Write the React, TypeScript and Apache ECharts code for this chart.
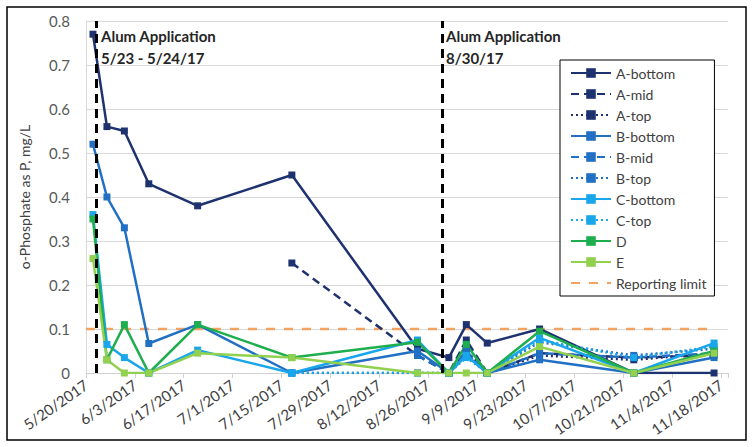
import React, { useEffect, useRef } from "react";
import * as echarts from "echarts";

const sampleDates = [
  "2017-05-22", "2017-05-26", "2017-05-31", "2017-06-07", "2017-06-21", "2017-07-18",
  "2017-08-23", "2017-09-01", "2017-09-06", "2017-09-12", "2017-09-27", "2017-10-24", "2017-11-16",
];

const aBottom = [0.77, 0.56, 0.55, 0.43, 0.38, 0.45, 0.055, 0.035, 0.11, 0.068, 0.1, 0, 0];
const aMid = [null, null, null, null, null, 0.25, 0.04, 0, 0.075, 0, 0.045, 0.035, 0.04];
const aTop = [null, null, null, null, null, null, null, 0, 0.05, 0, 0.04, 0.03, 0.045];
const bBottom = [0.52, 0.4, 0.33, 0.067, 0.11, 0, 0.05, 0, 0.04, 0, 0.03, 0, 0.035];
const bMid = [null, null, null, null, null, null, 0.04, 0, 0.05, 0, 0.045, 0.035, 0.045];
const bTop = [null, null, null, null, null, 0, 0, 0, 0.045, 0, 0.07, 0.04, 0.055];
const cBottom = [0.36, 0.065, 0.035, 0, 0.052, 0, 0.075, 0, 0.04, 0, 0.08, 0, 0.068];
const cTop = [null, null, null, null, null, 0, 0, 0, 0.035, 0, 0.075, 0.035, 0.06];
const siteD = [0.35, 0.03, 0.11, 0, 0.11, 0.035, 0.07, 0, 0.065, 0, 0.095, 0, 0.05];
const siteE = [0.26, 0.03, 0, 0, 0.045, 0.035, 0, 0, 0, 0, 0.06, 0, 0.045];

const reportingDates = ["2017-05-20", "2017-11-16"];
const reportingLimit = [0.1, 0.1];

const alumDates = ["2017-05-23", "2017-08-30"];
const alumLabels = ["Alum Application\n5/23 - 5/24/17", "Alum Application\n8/30/17"];

const axisStart = "2017-05-20";
const axisEndDays = 184;
const tickDays = 14;
const yTicks = [0, 0.1, 0.2, 0.3, 0.4, 0.5, 0.6, 0.7, 0.8];

const DAY = 86400000;
const parseUTC = (s: string) => {
  const [y, m, d] = s.split("-").map(Number);
  return Date.UTC(y, m - 1, d);
};
const base = parseUTC(axisStart);
const toDay = (s: string) => (parseUTC(s) - base) / DAY;
const fmtDay = (v: number) => {
  const dt = new Date(base + v * DAY);
  return `${dt.getUTCMonth() + 1}/${dt.getUTCDate()}/${dt.getUTCFullYear()}`;
};

const NAVY = "#1f3270";
const MED = "#2170c4";
const LIGHT = "#1aa6ea";
const GREEN = "#1fae4e";
const LGREEN = "#92d050";
const ORANGE = "#f3a262";

const seriesDefs: { name: string; vals: (number | null)[]; color: string; dash: any }[] = [
  { name: "A-bottom", vals: aBottom, color: NAVY, dash: "solid" },
  { name: "A-mid", vals: aMid, color: NAVY, dash: [8, 5] },
  { name: "A-top", vals: aTop, color: NAVY, dash: [2, 3] },
  { name: "B-bottom", vals: bBottom, color: MED, dash: "solid" },
  { name: "B-mid", vals: bMid, color: MED, dash: [8, 5] },
  { name: "B-top", vals: bTop, color: MED, dash: [2, 3] },
  { name: "C-bottom", vals: cBottom, color: LIGHT, dash: "solid" },
  { name: "C-top", vals: cTop, color: LIGHT, dash: [2, 3] },
  { name: "D", vals: siteD, color: GREEN, dash: "solid" },
  { name: "E", vals: siteE, color: LGREEN, dash: "solid" },
];

export default function App() {
  const ref = useRef<HTMLDivElement>(null);
  useEffect(() => {
    if (!ref.current) return;
    const chart = echarts.init(ref.current, undefined, { renderer: "svg" });
    const series: any[] = seriesDefs.map((s) => ({
      name: s.name,
      type: "line",
      data: sampleDates
        .map((d, i) => [toDay(d), s.vals[i]])
        .filter((p) => p[1] !== null && p[1] !== undefined),
      symbol: "rect",
      symbolSize: 7,
      showAllSymbol: true,
      lineStyle: { color: s.color, width: 2.5, type: s.dash },
      itemStyle: { color: s.color },
      z: 3,
    }));
    series.push({
      name: "Reporting limit",
      type: "line",
      data: reportingDates.map((d, i) => [toDay(d), reportingLimit[i]]),
      symbol: "none",
      lineStyle: { color: ORANGE, width: 2.5, type: [9, 9] },
      itemStyle: { color: ORANGE },
      z: 2,
      markLine: {
        silent: true,
        symbol: "none",
        label: { show: false },
        lineStyle: { color: "#000", width: 3, type: [9, 6] },
        data: alumDates.map((d) => ({ xAxis: toDay(d) })),
      },
    });

    chart.setOption({
      animation: false,
      textStyle: { fontFamily: "Lato" },
      grid: { left: 86, right: 25, top: 21, bottom: 74, containLabel: false },
      xAxis: {
        type: "value",
        min: 0,
        max: axisEndDays,
        interval: tickDays,
        axisLine: { show: true, lineStyle: { color: "#d0d0d0", width: 1 } },
        axisTick: { show: true, length: 5, lineStyle: { color: "#d0d0d0" } },
        splitLine: { show: false },
        axisLabel: {
          rotate: 35,
          fontSize: 15,
          color: "#404040",
          margin: 10,
          formatter: (v: number) => (v % tickDays === 0 ? fmtDay(v) : ""),
        },
      },
      yAxis: {
        type: "value",
        min: yTicks[0],
        max: yTicks[yTicks.length - 1],
        interval: 0.1,
        name: "o-Phosphate as P, mg/L",
        nameLocation: "middle",
        nameGap: 55,
        nameTextStyle: { fontSize: 14, color: "#404040" },
        axisLine: { show: true, lineStyle: { color: "#d9d9d9" } },
        axisTick: { show: false },
        splitLine: { show: true, lineStyle: { color: "#d9d9d9", width: 1 } },
        axisLabel: {
          fontSize: 15,
          color: "#595959",
          margin: 16,
          formatter: (v: number) => (Math.abs(v) < 1e-9 ? "0" : v.toFixed(1)),
        },
      },
      legend: {
        orient: "vertical",
        left: 560,
        top: 60,
        itemWidth: 40,
        itemHeight: 12,
        itemGap: 7,
        padding: [6, 8, 6, 10],
        borderColor: "#000",
        borderWidth: 1,
        backgroundColor: "#fff",
        textStyle: { fontSize: 14, color: "#404040" },
        data: [
          ...seriesDefs.map((s) => s.name),
          { name: "Reporting limit", itemStyle: { opacity: 0 } },
        ],
      },
      graphic: [
        {
          type: "rect",
          shape: { x: 7, y: 7, width: 739, height: 433 },
          style: { fill: "none", stroke: "#000", lineWidth: 1.5 },
          silent: true,
        },
        ...alumLabels.map((t, i) => ({
          type: "text",
          left: i === 0 ? 101 : 446,
          top: 25,
          style: {
            text: t,
            font: "bold 15px Lato",
            lineHeight: 22,
            fill: "#262626",
          },
        })),
      ],
      series,
    });
    return () => chart.dispose();
  }, []);
  return (
    <div
      ref={ref}
      style={{ position: "fixed", left: 0, top: 0, width: 753, height: 447, background: "#fff" }}
    />
  );
}
